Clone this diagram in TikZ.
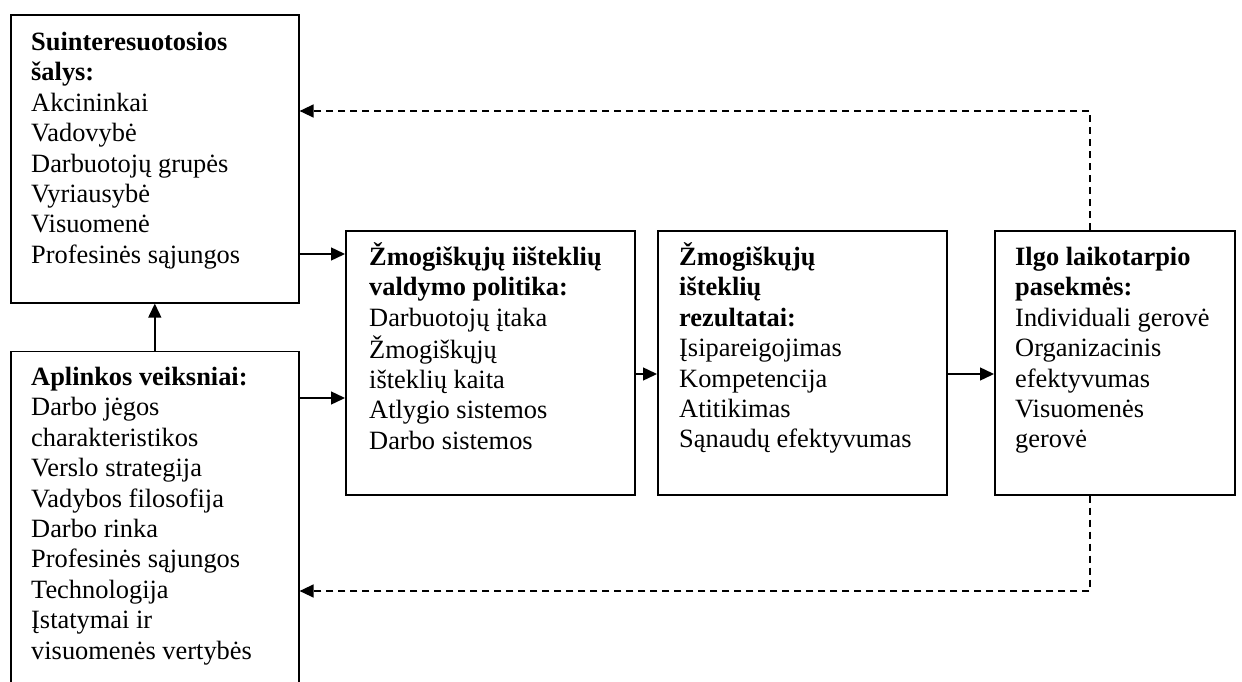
\documentclass[tikz,border=0pt]{standalone}
\usepackage{fontspec}
\setmainfont{Liberation Serif}
\usetikzlibrary{arrows.meta}
\begin{document}
\begin{tikzpicture}[x=1pt,y=-1pt,
  boxst/.style={draw=black,line width=1.6pt,rectangle,inner sep=0pt,anchor=north west},
  txt/.style={inner sep=0pt,anchor=base west,font=\fontsize{26.4}{30.4}\selectfont},
  arr/.style={line width=1.4pt,-{Triangle[length=14pt,width=13pt]}},
  dsh/.style={line width=1.4pt,dash pattern=on 7pt off 5pt,-{Triangle[length=14pt,width=13pt]}}]
\useasboundingbox (0,0) rectangle (1242,682);
\begin{scope}
\clip (0,0) rectangle (1242,682);
\node[boxst,minimum width=288pt,minimum height=288pt] (b1) at (10,14) {};
\node[boxst,minimum width=288pt,minimum height=360pt] (b2) at (10,350.7) {};
\node[boxst,minimum width=289pt,minimum height=264pt] (b3) at (345,230) {};
\node[boxst,minimum width=289pt,minimum height=264pt] (b4) at (657,230) {};
\node[boxst,minimum width=240pt,minimum height=264pt] (b5) at (994,230) {};

\node[txt] (t1) at (31,50.5) {\begin{tabular}[t]{@{}l@{}}\textbf{Suinteresuotosios}\\ \textbf{šalys:}\\ Akcininkai\\ Vadovybė\\ Darbuotojų grupės\\ Vyriausybė\\ Visuomenė\\ Profesinės sąjungos\end{tabular}};
\node[txt] (t2) at (31,385.5) {\begin{tabular}[t]{@{}l@{}}\textbf{Aplinkos veiksniai:}\\ Darbo jėgos\\ charakteristikos\\ Verslo strategija\\ Vadybos filosofija\\ Darbo rinka\\ Profesinės sąjungos\\ Technologija\\ Įstatymai ir\\ visuomenės vertybės\end{tabular}};
\node[txt] (t3) at (369,265.5) {\begin{tabular}[t]{@{}l@{}}\textbf{Žmogiškųjų iišteklių}\\ \textbf{valdymo politika:}\\ Darbuotojų įtaka\\ Žmogiškųjų\\ išteklių kaita\\ Atlygio sistemos\\ Darbo sistemos\end{tabular}};
\node[txt] (t4) at (679,265.5) {\begin{tabular}[t]{@{}l@{}}\textbf{Žmogiškųjų}\\ \textbf{išteklių}\\ \textbf{rezultatai:}\\ Įsipareigojimas\\ Kompetencija\\ Atitikimas\\ Sąnaudų efektyvumas\end{tabular}};
\node[txt] (t5) at (1015,265.5) {\begin{tabular}[t]{@{}l@{}}\textbf{Ilgo laikotarpio}\\ \textbf{pasekmės:}\\ Individuali gerovė\\ Organizacinis\\ efektyvumas\\ Visuomenės\\ gerovė\end{tabular}};

\coordinate (y1) at (0,254);
\coordinate (y2) at (0,398);
\coordinate (y3) at (0,374);
\coordinate (d1) at (1090,111);
\coordinate (d2) at (1090,591);

\draw[arr] (b2.north) -- (b1.south);
\draw[arr] (b1.east |- y1) -- (b3.west |- y1);
\draw[arr] (b2.east |- y2) -- (b3.west |- y2);
\draw[arr] (b3.east |- y3) -- (b4.west |- y3);
\draw[arr] (b4.east |- y3) -- (b5.west |- y3);
\draw[dsh] (b5.north -| d1) -- (d1) -- (b1.east |- d1);
\draw[dsh] (b5.south -| d2) -- (d2) -- (b2.east |- d2);
\end{scope}
\end{tikzpicture}
\end{document}
